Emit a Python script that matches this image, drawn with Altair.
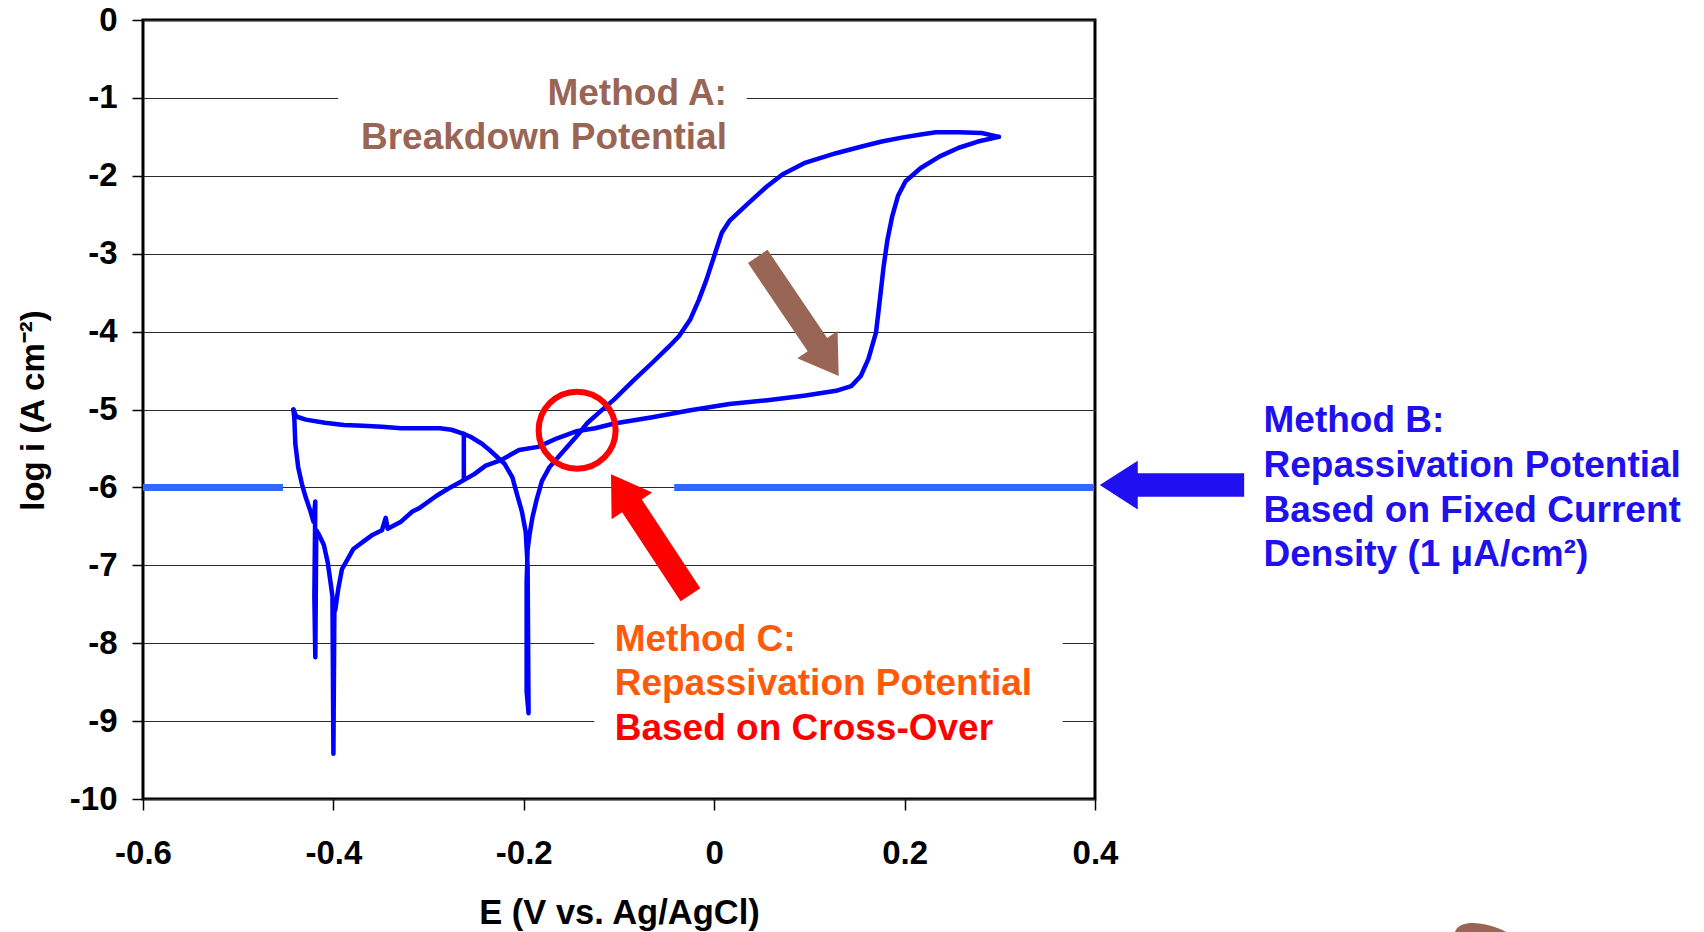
import altair as alt
import pandas as pd

# ---------------- data ----------------
# forward scan (E in V vs Ag/AgCl, log i)
fwd_E = [-0.442, -0.441, -0.440, -0.437, -0.433, -0.429, -0.424, -0.421, -0.419, -0.420,
         -0.419, -0.418, -0.415, -0.410, -0.406, -0.403, -0.401, -0.400, -0.399, -0.398,
         -0.395, -0.391, -0.385, -0.379, -0.369, -0.359, -0.349, -0.345, -0.343, -0.329,
         -0.317, -0.309, -0.292, -0.280, -0.268, -0.252, -0.240, -0.224, -0.205, -0.185,
         -0.165, -0.145, -0.125, -0.105, -0.065, -0.025, 0.016, 0.056, 0.096, 0.128,
         0.144, 0.154, 0.162, 0.170, 0.174, 0.178, 0.182, 0.187, 0.193, 0.201,
         0.217, 0.237, 0.257, 0.277, 0.299]
fwd_logi = [-5.00, -5.13, -5.44, -5.74, -5.96, -6.13, -6.31, -6.44, -6.18, -7.40,
            -8.18, -6.55, -6.61, -6.74, -6.96, -7.22, -7.40, -9.42, -7.60, -7.57,
            -7.31, -7.05, -6.92, -6.79, -6.70, -6.61, -6.55, -6.39, -6.53, -6.44,
            -6.31, -6.26, -6.11, -6.02, -5.94, -5.83, -5.72, -5.65, -5.52, -5.48,
            -5.37, -5.28, -5.24, -5.18, -5.10, -5.01, -4.93, -4.88, -4.82, -4.76,
            -4.70, -4.57, -4.35, -4.01, -3.59, -3.16, -2.82, -2.52, -2.26, -2.07,
            -1.90, -1.75, -1.64, -1.56, -1.50]

# reverse scan
rev_E = [0.299, 0.281, 0.257, 0.233, 0.217, 0.197, 0.176, 0.156, 0.128, 0.096,
         0.072, 0.056, 0.036, 0.016, 0.008, 0.000, -0.008, -0.016, -0.025, -0.037,
         -0.049, -0.065, -0.085, -0.105, -0.121, -0.133, -0.145, -0.161, -0.173, -0.181,
         -0.187, -0.191, -0.194, -0.196, -0.197, -0.197, -0.195, -0.196, -0.198, -0.202,
         -0.208, -0.212, -0.220, -0.228, -0.236, -0.244, -0.256, -0.264, -0.276, -0.288,
         -0.308, -0.329, -0.349, -0.369, -0.389, -0.409, -0.429, -0.439, -0.442]
rev_logi = [-1.50, -1.45, -1.44, -1.44, -1.47, -1.51, -1.56, -1.62, -1.71, -1.83,
            -1.98, -2.13, -2.35, -2.58, -2.73, -3.03, -3.33, -3.59, -3.84, -4.06,
            -4.21, -4.40, -4.63, -4.87, -5.04, -5.17, -5.35, -5.57, -5.74, -5.92,
            -6.18, -6.39, -6.61, -6.80, -7.20, -8.62, -8.90, -7.00, -6.57, -6.31,
            -6.05, -5.87, -5.70, -5.61, -5.52, -5.44, -5.35, -5.31, -5.26, -5.24,
            -5.24, -5.24, -5.22, -5.21, -5.20, -5.17, -5.13, -5.09, -5.00]

# short vertical jump
jump_E = [-0.263, -0.263]
jump_logi = [-5.31, -5.89]

x_ticks = [-0.6, -0.4, -0.2, 0, 0.2, 0.4]
y_ticks = [-10, -9, -8, -7, -6, -5, -4, -3, -2, -1, 0]

# Method B fixed-current level (1 uA/cm2) drawn segments
fixed_level = -6
fixed_seg_start = [-0.6, -0.042]
fixed_seg_end = [-0.453, 0.398]

# cross-over marker
cross_E = [-0.144]
cross_logi = [-5.265]

# arrows (tip positions, direction angle in degrees)
arrow_E = [0.1308, -0.1084, 0.405]
arrow_logi = [-4.57, -5.83, -5.97]
arrow_angle = [145.9, 326.6, 270]
arrow_color = ["#996655", "#FF0000", "#2010F0"]

# white boxes behind annotation text (hide grid lines)
box_E = [-0.395, -0.126]
box_E2 = [0.034, 0.366]
box_logi = [-0.7, -7.6]
box_logi2 = [-1.4, -9.7]

# annotation text
a_text = ["Method A:", "Breakdown Potential"]
a_E = [0.0134, 0.0134]
a_logi = [-1.09, -1.655]
a_color = ["#996655", "#996655"]

c_text = ["Method C:", "Repassivation Potential", "Based on Cross-Over"]
c_E = [-0.1045, -0.1045, -0.1045]
c_logi = [-8.10, -8.67, -9.24]
c_color = ["#FF5A0A", "#FF5A0A", "#FF0000"]

b_text = ["Method B:", "Repassivation Potential", "Based on Fixed Current", "Density (1 \u03bcA/cm\u00b2)"]
b_E = [0.577, 0.577, 0.577, 0.577]
b_logi = [-5.285, -5.863, -6.44, -7.01]
b_color = ["#2010F0"] * 4

blob_E = [0.815]
blob_logi = [-11.87]

# ---------------- tables ----------------
rows = []
for i, (e, v) in enumerate(zip(fwd_E, fwd_logi)):
    rows.append({"E": e, "logi": v, "seg": "fwd", "ord": i})
for i, (e, v) in enumerate(zip(rev_E, rev_logi)):
    rows.append({"E": e, "logi": v, "seg": "rev", "ord": i})
for i, (e, v) in enumerate(zip(jump_E, jump_logi)):
    rows.append({"E": e, "logi": v, "seg": "jump", "ord": i})
curve_df = pd.DataFrame(rows)

fixed_df = pd.DataFrame({"E": fixed_seg_start, "E2": fixed_seg_end, "logi": [fixed_level] * 2})
cross_df = pd.DataFrame({"E": cross_E, "logi": cross_logi})
arrow_df = pd.DataFrame({"E": arrow_E, "logi": arrow_logi, "ang": arrow_angle, "col": arrow_color})
box_df = pd.DataFrame({"E": box_E, "E2": box_E2, "logi": box_logi, "logi2": box_logi2})
a_df = pd.DataFrame({"E": a_E, "logi": a_logi, "t": a_text, "col": a_color})
c_df = pd.DataFrame({"E": c_E, "logi": c_logi, "t": c_text, "col": c_color})
b_df = pd.DataFrame({"E": b_E, "logi": b_logi, "t": b_text, "col": b_color})
blob_df = pd.DataFrame({"E": blob_E, "logi": blob_logi})

# ---------------- scales / axes ----------------
FONT = "Liberation Sans"
xscale = alt.Scale(domain=[-0.6, 0.4], nice=False, zero=False)
yscale = alt.Scale(domain=[-10, 0], nice=False, zero=False)
xaxis = alt.Axis(values=x_ticks, labelExpr="'' + datum.value", grid=False, domain=False,
                 ticks=True, tickSize=11, tickWidth=1.5, tickColor="black", labelFlush=False,
                 labelFont=FONT, labelFontSize=33, labelFontWeight="bold", labelColor="black",
                 labelPadding=27, title="E (V vs. Ag/AgCl)", titleFont=FONT, titleFontSize=34.5,
                 titleFontWeight="bold", titleColor="black", titleX=476, titleY=124,
                 titleBaseline="alphabetic", titleAlign="center")
yaxis = alt.Axis(values=y_ticks, labelExpr="'' + datum.value", grid=True, gridColor="#2a2a2a",
                 gridWidth=1.2, domain=False, ticks=True, tickSize=11, tickWidth=1.5,
                 tickColor="black", labelFlush=False, labelFont=FONT, labelFontSize=33,
                 labelFontWeight="bold", labelColor="black", labelPadding=15,
                 title="log i (A cm\u207b\u00b2)", titleFont=FONT, titleFontSize=33,
                 titleFontWeight="bold", titleColor="black", titleAngle=270,
                 titleX=-110, titleY=390, titleAlign="center", titleBaseline="middle")

X = alt.X("E:Q", scale=xscale, axis=xaxis)
Y = alt.Y("logi:Q", scale=yscale, axis=yaxis)

boxes = alt.Chart(box_df).mark_rect(fill="white", stroke=None).encode(
    x=X, x2="E2:Q", y=Y, y2="logi2:Q")

fixed = alt.Chart(fixed_df).mark_rule(color="#3366FF", strokeWidth=7, strokeCap="butt").encode(
    x=X, x2="E2:Q", y=Y)

curve = alt.Chart(curve_df).mark_line(color="#0000FF", strokeWidth=4.5, strokeJoin="round",
                                      strokeCap="round").encode(
    x=X, y=Y, detail="seg:N", order="ord:Q")

cross = alt.Chart(cross_df).mark_point(shape="circle", filled=False, size=5929, strokeWidth=6,
                                       color="#FF0000", opacity=1).encode(x=X, y=Y)

ARROW = "M 0 0 L 1.28 2 L 0.62 2 L 0.62 7.6 L -0.62 7.6 L -0.62 2 L -1.28 2 Z"
arrows = alt.Chart(arrow_df).mark_point(shape=ARROW, filled=True, size=1444, opacity=1,
                                        strokeWidth=0).encode(
    x=X, y=Y, angle=alt.Angle("ang:Q", scale=None), color=alt.Color("col:N", scale=None))

BLOB = "M -1.7 0 C -1.7 -1.1 1.7 -1.1 1.7 0 C 1.7 1.1 -1.7 1.1 -1.7 0 Z"
blob = alt.Chart(blob_df).mark_point(shape=BLOB, filled=True, size=1936, opacity=1,
                                     strokeWidth=0, color="#996655", angle=20).encode(x=X, y=Y)

def text_layer(df, align):
    return alt.Chart(df).mark_text(align=align, baseline="alphabetic", font=FONT, fontSize=37,
                                   fontWeight="bold").encode(
        x=X, y=Y, text="t:N", color=alt.Color("col:N", scale=None))

chart = alt.layer(boxes, fixed, curve, cross, arrows, blob,
                  text_layer(a_df, "right"), text_layer(c_df, "left"),
                  text_layer(b_df, "left")).properties(
    width=952, height=779,
    autosize=alt.AutoSizeParams(type="none"),
    padding={"left": 143, "top": 20, "right": 609, "bottom": 133},
    background="white",
).configure_view(stroke="black", strokeWidth=3)

chart.save("out.html", embed_options={"renderer": "svg", "actions": False})
